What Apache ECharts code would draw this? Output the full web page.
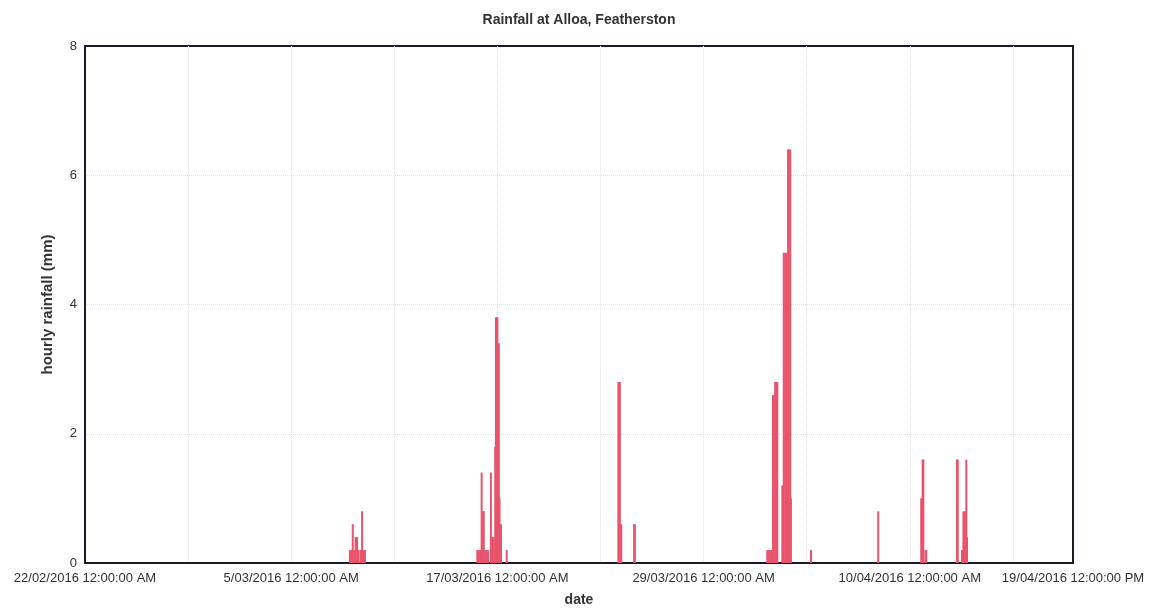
<!DOCTYPE html>
<html>
<head>
<meta charset="utf-8">
<script src="https://cdn.jsdelivr.net/npm/echarts@6/dist/echarts.min.js"></script>
<style>
html, body { margin: 0; padding: 0; background: #fff; }
#chart0 { width: 1158px; height: 612px; }
</style>
</head>
<body>
<div id="chart0"></div>
<script>
'use strict';

// hourly rainfall readings (only hours with rain), tipping bucket 0.2 mm
var rain_times = [
	'2016-03-08 10:00', '2016-03-08 12:00', '2016-03-08 14:00', '2016-03-08 16:00',
	'2016-03-08 18:00', '2016-03-08 20:00', '2016-03-08 22:00', '2016-03-09 01:00',
	'2016-03-09 03:00', '2016-03-09 05:00', '2016-03-09 07:00',
	'2016-03-15 20:00', '2016-03-15 22:00', '2016-03-16 00:00', '2016-03-16 02:00',
	'2016-03-16 04:00', '2016-03-16 05:00', '2016-03-16 07:00', '2016-03-16 09:00',
	'2016-03-16 11:00', '2016-03-16 15:00', '2016-03-16 17:00', '2016-03-16 19:00',
	'2016-03-16 21:00', '2016-03-16 22:00', '2016-03-16 23:00', '2016-03-17 00:00',
	'2016-03-17 02:00', '2016-03-17 03:00', '2016-03-17 05:00', '2016-03-17 13:00',
	'2016-03-24 01:00', '2016-03-24 02:00', '2016-03-24 03:00', '2016-03-24 05:00',
	'2016-03-24 23:00', '2016-03-25 00:00',
	'2016-04-01 17:00', '2016-04-01 19:00', '2016-04-01 21:00', '2016-04-01 23:00',
	'2016-04-02 01:00', '2016-04-02 02:00', '2016-04-02 04:00', '2016-04-02 06:00',
	'2016-04-02 07:00', '2016-04-02 14:00', '2016-04-02 16:00', '2016-04-02 18:00',
	'2016-04-02 20:00', '2016-04-02 22:00', '2016-04-02 23:00', '2016-04-03 01:00',
	'2016-04-03 02:00', '2016-04-04 06:00',
	'2016-04-08 04:00',
	'2016-04-10 16:00', '2016-04-10 18:00', '2016-04-10 19:00', '2016-04-10 22:00',
	'2016-04-10 23:00',
	'2016-04-12 18:00', '2016-04-12 19:00', '2016-04-13 01:00', '2016-04-13 03:00',
	'2016-04-13 05:00', '2016-04-13 07:00', '2016-04-13 08:00'
];
var rain_mm = [
	0.2, 0.2, 0.6, 0.2,
	0.4, 0.4, 0.2, 0.2,
	0.8, 0.2, 0.2,
	0.2, 0.2, 0.2, 1.4,
	0.8, 0.8, 0.2, 0.2,
	0.2, 1.4, 0.4, 0.4,
	1.8, 3.8, 3.8, 3.8,
	3.4, 1.0, 0.6, 0.2,
	2.8, 2.8, 2.8, 0.6,
	0.6, 0.6,
	0.2, 0.2, 0.2, 0.2,
	2.6, 2.6, 2.8, 2.8,
	2.8, 1.2, 4.8, 4.8,
	4.8, 6.4, 6.4, 6.4,
	1.0, 0.2,
	0.8,
	1.0, 1.6, 1.6, 0.2,
	0.2,
	1.6, 1.6, 0.2, 0.8,
	0.8, 1.6, 0.4
];

var axis_start = '2016-02-22 00:00';
var axis_end = '2016-04-19 12:00';
var tick_times = [ '2016-02-22 00:00', '2016-03-05 00:00', '2016-03-17 00:00',
		'2016-03-29 00:00', '2016-04-10 00:00', '2016-04-19 12:00' ];
var tick_labels = [ '22/02/2016 12:00:00 AM', '5/03/2016 12:00:00 AM',
		'17/03/2016 12:00:00 AM', '29/03/2016 12:00:00 AM',
		'10/04/2016 12:00:00 AM', '19/04/2016 12:00:00 PM' ];

function to_ms(s) {
	var p = s.split(/[- :]/);
	return Date.UTC(+p[0], p[1] - 1, +p[2], +p[3], +p[4]);
}
// x axis runs in days since the first tick
function to_days(s) {
	return (to_ms(s) - to_ms(axis_start)) / 86400000;
}

var tick_days = tick_times.map(to_days);
var chart_data = [];
for (var i = 0; i < rain_times.length; i++) {
	chart_data.push([ to_days(rain_times[i]), rain_mm[i] ]);
}

var chart0 = echarts.init(document.getElementById('chart0'));
var font = 'Liberation Sans, Arial, sans-serif';
chart0.setOption({
	animation : false,
	title : {
		text : 'Rainfall at Alloa, Featherston',
		left : 'center',
		top : 8,
		textStyle : {
			fontFamily : font,
			fontSize : 14,
			fontWeight : 'bold',
			color : '#333'
		}
	},
	grid : {
		left : 85,
		right : 85,
		top : 46,
		bottom : 47,
		show : true,
		borderColor : '#1a1a2a',
		borderWidth : 2
	},
	xAxis : {
		type : 'value',
		min : 0,
		max : to_days(axis_end),
		interval : 6,
		name : 'date',
		nameLocation : 'middle',
		nameGap : 30,
		nameTextStyle : {
			fontFamily : font,
			fontSize : 14,
			fontWeight : 'bold',
			color : '#333'
		},
		axisLine : {
			lineStyle : {
				color : '#1a1a2a',
				width : 2
			}
		},
		axisTick : {
			show : false
		},
		axisLabel : {
			customValues : tick_days,
			margin : 9,
			fontFamily : font,
			fontSize : 13,
			color : '#333',
			formatter : function(v) {
				for (var k = 0; k < tick_days.length; k++) {
					if (Math.abs(tick_days[k] - v) < 1e-6) {
						return tick_labels[k];
					}
				}
				return '';
			}
		},
		splitLine : {
			show : true,
			showMinLine : false,
			showMaxLine : false,
			lineStyle : {
				color : '#e2e2e2',
				type : 'dotted'
			}
		}
	},
	yAxis : {
		type : 'value',
		min : 0,
		max : 8,
		interval : 2,
		name : 'hourly rainfall (mm)',
		nameLocation : 'middle',
		nameGap : 30,
		nameTextStyle : {
			fontFamily : font,
			fontSize : 15,
			fontWeight : 'bold',
			color : '#333'
		},
		axisLine : {
			show : true,
			lineStyle : {
				color : '#1a1a2a',
				width : 2
			}
		},
		axisTick : {
			show : false
		},
		axisLabel : {
			margin : 8,
			fontFamily : font,
			fontSize : 13,
			color : '#333'
		},
		splitLine : {
			show : true,
			showMinLine : false,
			showMaxLine : false,
			lineStyle : {
				color : '#e2e2e2',
				type : 'dotted'
			}
		}
	},
	series : [ {
		name : 'rainfall',
		type : 'bar',
		barWidth : 2,
		itemStyle : {
			color : '#e9536b'
		},
		data : chart_data
	} ]
});
</script>
</body>
</html>
